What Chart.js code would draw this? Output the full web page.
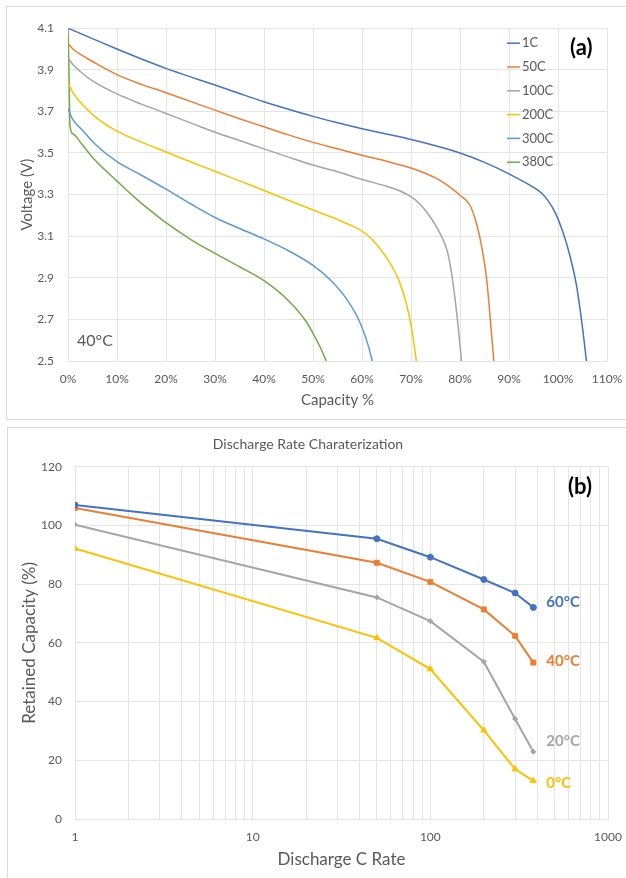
<!DOCTYPE html>
<html>
<head>
<meta charset="utf-8">
<script src="https://cdn.jsdelivr.net/npm/chart.js@4.4.0/dist/chart.umd.min.js"></script>
<style>
body { margin: 0; background: #fff; width: 626px; height: 878px; overflow: hidden; position: relative; }
.box { position: absolute; border: 1px solid #d9d9d9; }
.box canvas { display: block; }
#boxA { left: 6px; top: 6px; width: 620px; height: 412px; }
#boxB { left: 7px; top: 427px; width: 619px; height: 451px; }
</style>
</head>
<body>
<div class="box" id="boxA"><canvas id="chartA" width="620" height="412"></canvas></div>
<div class="box" id="boxB"><canvas id="chartB" width="619" height="450"></canvas></div>
<script>
// ---- (a) discharge curves at 40°C ----
const rateNamesA = ['1C', '50C', '100C', '200C', '300C', '380C'];

const cap1C = [0, 2, 5, 10, 15, 20, 25, 30, 35, 40, 45, 50, 55, 60, 65, 70, 75, 80, 85, 90, 93, 95, 96.5, 98, 99.5, 101, 102.5, 103.8, 105, 105.8];
const volt1C = [4.10, 4.08, 4.05, 4.00, 3.952, 3.907, 3.866, 3.827, 3.786, 3.746, 3.71, 3.676, 3.645, 3.617, 3.591, 3.565, 3.535, 3.50, 3.455, 3.40, 3.362, 3.335, 3.31, 3.27, 3.21, 3.12, 3.00, 2.86, 2.66, 2.50];

const cap50C = [0, 1, 2.8, 5, 10, 15, 20, 25, 30, 35, 40, 45, 50, 55, 60, 65, 70, 75, 78, 80, 82, 83, 84, 85, 85.5, 86.4, 86.9];
const volt50C = [4.025, 4.0, 3.97, 3.94, 3.877, 3.83, 3.79, 3.748, 3.706, 3.665, 3.626, 3.587, 3.551, 3.52, 3.489, 3.46, 3.428, 3.38, 3.335, 3.297, 3.25, 3.19, 3.10, 2.97, 2.88, 2.64, 2.50];

const cap100C = [0, 1, 2.8, 5, 10, 15, 20, 25, 30, 35, 40, 45, 50, 55, 60, 65, 68, 70, 72, 74, 76, 77.5, 78.6, 79.6, 80.3];
const volt100C = [3.957, 3.925, 3.886, 3.847, 3.784, 3.735, 3.69, 3.645, 3.60, 3.56, 3.52, 3.48, 3.442, 3.41, 3.373, 3.34, 3.315, 3.29, 3.25, 3.19, 3.11, 3.02, 2.87, 2.67, 2.50];

const cap200C = [0, 1, 2.8, 5.5, 10, 15, 20, 25, 30, 35, 40, 45, 50, 54, 57, 60, 62, 64, 66, 67.5, 69, 70.1, 71.1];
const volt200C = [3.838, 3.79, 3.737, 3.675, 3.605, 3.552, 3.505, 3.458, 3.412, 3.366, 3.32, 3.273, 3.226, 3.19, 3.16, 3.125, 3.085, 3.03, 2.96, 2.89, 2.78, 2.66, 2.50];

const cap300C = [0, 1, 2.8, 5.5, 10, 15, 20, 25, 30, 35, 40, 45, 50, 53.4, 56.8, 59.5, 61.2, 62.1];
const volt300C = [3.714, 3.66, 3.613, 3.543, 3.458, 3.393, 3.326, 3.256, 3.19, 3.137, 3.087, 3.03, 2.96, 2.893, 2.80, 2.69, 2.58, 2.50];

const cap380C = [0, 0.2, 0.4, 1.1, 2.8, 5.5, 10, 14.4, 17.8, 20, 25, 30, 35, 40, 45, 48.6, 50.3, 51.5, 52.7];
const volt380C = [4.10, 3.90, 3.63, 3.59, 3.543, 3.466, 3.365, 3.27, 3.205, 3.165, 3.085, 3.017, 2.953, 2.886, 2.79, 2.69, 2.62, 2.565, 2.50];

const capTicks = [0, 10, 20, 30, 40, 50, 60, 70, 80, 90, 100, 110];
const voltTicks = [2.5, 2.7, 2.9, 3.1, 3.3, 3.5, 3.7, 3.9, 4.1];

// ---- (b) retained capacity vs C rate ----
const cRates = [1, 50, 100, 200, 300, 380];
const temps = ['60°C', '40°C', '20°C', '0°C'];
const retained60 = [107, 95.5, 89.2, 81.6, 77.0, 72.1];
const retained40 = [106, 87.3, 80.8, 71.4, 62.4, 53.3];
const retained20 = [100.3, 75.5, 67.4, 53.6, 34.1, 22.9];
const retained0 = [92.2, 61.7, 51.1, 30.2, 17.0, 13.0];

const rateGrid = [1, 2, 3, 4, 5, 6, 7, 8, 9, 10, 20, 30, 40, 50, 60, 70, 80, 90, 100, 200, 300, 400, 500, 600, 700, 800, 900, 1000];
const rateTickLabels = [1, 10, 100, 1000];
const retainedTicks = [0, 20, 40, 60, 80, 100, 120];

Chart.defaults.font.family = 'Lato';
Chart.defaults.color = '#595959';
Chart.defaults.animation = false;

const gridColor = '#e4e4e4';
const toPoints = (xs, ys) => xs.map((x, i) => ({ x: x, y: ys[i] }));

const colorsA = ['#4472C4', '#ED7D31', '#A5A5A5', '#FFC000', '#5B9BD5', '#70AD47'];
const curvesA = [[cap1C, volt1C], [cap50C, volt50C], [cap100C, volt100C], [cap200C, volt200C], [cap300C, volt300C], [cap380C, volt380C]];

// the x axis would otherwise eat into the right margin for its last label
const fixXAxis = (s, h) => { s.height = h; s.paddingLeft = 0; s.paddingRight = 0; };

const legendA = {
    id: 'legendA',
    afterDraw(chart) {
        const ctx = chart.ctx;
        const a = chart.chartArea;
        ctx.save();
        ctx.font = '13px Lato';
        ctx.textBaseline = 'middle';
        chart.data.datasets.forEach((ds, i) => {
            const y = a.top + 15 + i * 23.8;
            ctx.strokeStyle = ds.borderColor;
            ctx.lineWidth = 1.5;
            ctx.beginPath();
            ctx.moveTo(a.right - 100, y);
            ctx.lineTo(a.right - 87, y);
            ctx.stroke();
            ctx.fillStyle = '#595959';
            ctx.fillText(ds.label, a.right - 85, y);
        });
        ctx.fillStyle = '#000';
        ctx.font = 'bold 22px Lato';
        ctx.fillText('(a)', a.right - 37, a.top + 20);
        ctx.fillStyle = '#595959';
        ctx.font = '16px Lato';
        ctx.fillText('40°C', a.left + 9, a.bottom - 20);
        ctx.restore();
    }
};

new Chart(document.getElementById('chartA'), {
    type: 'line',
    data: {
        datasets: curvesA.map((c, i) => ({
            label: rateNamesA[i],
            data: toPoints(c[0], c[1]),
            borderColor: colorsA[i],
            borderWidth: 1.5,
            pointRadius: 0,
            cubicInterpolationMode: 'monotone'
        }))
    },
    options: {
        responsive: false,
        layout: { padding: { top: 10, right: 20, bottom: 0, left: 0 } },
        plugins: { legend: { display: false }, tooltip: { enabled: false } },
        scales: {
            x: {
                type: 'linear', min: 0, max: 110,
                afterBuildTicks: s => { s.ticks = capTicks.map(v => ({ value: v })); },
                afterFit: s => fixXAxis(s, 58),
                grid: { color: gridColor, drawTicks: false },
                border: { color: gridColor },
                ticks: { padding: 11, font: { size: 12 }, callback: v => v + '%', maxRotation: 0, autoSkip: false },
                title: { display: true, text: 'Capacity %', font: { size: 15 }, padding: { top: 0, bottom: 10 } }
            },
            y: {
                min: 2.5, max: 4.1,
                afterBuildTicks: s => { s.ticks = voltTicks.map(v => ({ value: v })); },
                afterFit: s => { s.width = 61; },
                grid: { color: gridColor, drawTicks: false },
                border: { color: gridColor },
                ticks: { padding: 14, font: { size: 12 }, callback: v => v.toFixed(1) },
                title: { display: true, text: 'Voltage (V)', font: { size: 15 }, padding: { top: 11, bottom: 0 } }
            }
        }
    },
    plugins: [legendA]
});

const colorsB = ['#4472C4', '#ED7D31', '#A5A5A5', '#FFC000'];
const seriesB = [retained60, retained40, retained20, retained0];
const markersB = ['circle', 'rect', 'rectRot', 'triangle'];
const markerSizeB = [3, 3.5, 2.5, 3.5];
const labelShift = [-5, -1, -11, 2];

const labelsB = {
    id: 'labelsB',
    afterDatasetsDraw(chart) {
        const ctx = chart.ctx;
        const a = chart.chartArea;
        ctx.save();
        ctx.font = 'bold 15px Lato';
        ctx.textBaseline = 'middle';
        chart.data.datasets.forEach((ds, i) => {
            const pts = chart.getDatasetMeta(i).data;
            const last = pts[pts.length - 1];
            ctx.fillStyle = ds.borderColor;
            ctx.fillText(ds.label, last.x + 13, last.y + labelShift[i]);
        });
        ctx.fillStyle = '#000';
        ctx.font = 'bold 22px Lato';
        ctx.fillText('(b)', a.right - 40, a.top + 20);
        ctx.restore();
    }
};

new Chart(document.getElementById('chartB'), {
    type: 'line',
    data: {
        datasets: seriesB.map((s, i) => ({
            label: temps[i],
            data: toPoints(cRates, s),
            borderColor: colorsB[i],
            backgroundColor: colorsB[i],
            borderWidth: 2,
            pointStyle: markersB[i],
            pointRadius: markerSizeB[i],
            pointBackgroundColor: colorsB[i],
            pointBorderColor: colorsB[i],
            pointBorderWidth: 1,
            tension: 0
        }))
    },
    options: {
        responsive: false,
        layout: { padding: { top: 0, right: 19, bottom: 0, left: 0 } },
        plugins: {
            legend: { display: false },
            tooltip: { enabled: false },
            title: {
                display: true, text: 'Discharge Rate Charaterization',
                color: '#595959', font: { size: 14, weight: 'normal' },
                padding: { top: 8, bottom: 14 }
            }
        },
        scales: {
            x: {
                type: 'logarithmic', min: 1, max: 1000,
                afterBuildTicks: s => { s.ticks = rateGrid.map(v => ({ value: v })); },
                afterFit: s => fixXAxis(s, 59),
                grid: { color: gridColor, drawTicks: false },
                border: { color: gridColor },
                ticks: {
                    padding: 11, font: { size: 12 }, autoSkip: false, maxRotation: 0,
                    callback: v => rateTickLabels.includes(v) ? String(v) : ''
                },
                title: { display: true, text: 'Discharge C Rate', font: { size: 17 }, padding: { top: 0, bottom: 8 } }
            },
            y: {
                min: 0, max: 120,
                afterBuildTicks: s => { s.ticks = retainedTicks.map(v => ({ value: v })); },
                afterFit: s => { s.width = 67; },
                grid: { color: gridColor, drawTicks: false },
                border: { color: gridColor },
                ticks: { padding: 13, font: { size: 12 } },
                title: { display: true, text: 'Retained Capacity (%)', font: { size: 17 }, padding: { top: 11, bottom: 0 } }
            }
        }
    },
    plugins: [labelsB]
});
</script>
</body>
</html>
